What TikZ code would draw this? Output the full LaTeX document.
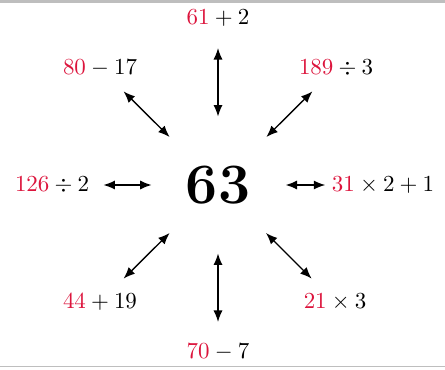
\documentclass[tikz,border=0pt]{standalone}
\usepackage{xcolor}
\usepackage{tikz}
\usetikzlibrary{arrows.meta,calc}
\definecolor{numred}{RGB}{220,20,60}
\definecolor{rulegray}{RGB}{190,190,190}

\begin{document}
\begin{tikzpicture}[x=0.0153cm,y=-0.0153cm,
  lbl/.style={font=\normalsize,inner sep=1pt},
  centre/.style={font=\Huge\bfseries,inner sep=1pt},
  arr/.style={{Latex[length=5pt,width=4pt]}-{Latex[length=5pt,width=4pt]},line width=0.6pt}
]
\useasboundingbox (0,0) rectangle (445,369);

% Frame rules
\fill[rulegray] (0,0) rectangle (445,3);
\draw[rulegray,line width=0.45pt] (0,366.5) -- (445,366.5);

% Centre number
\node[centre] (c) at (218,185) {63};

% Expressions around it
\node[lbl] (n)  at (218,18)  {$\textcolor{numred}{61}+2$};
\node[lbl] (s)  at (218,352) {$\textcolor{numred}{70}-7$};
\node[lbl] (w)  at (52,185)  {$\textcolor{numred}{126}\div 2$};
\node[lbl] (e)  at (383,185) {$\textcolor{numred}{31}\times 2+1$};
\node[lbl] (nw) at (100,68)  {$\textcolor{numred}{80}-17$};
\node[lbl] (ne) at (336,68)  {$\textcolor{numred}{189}\div 3$};
\node[lbl] (sw) at (100,302) {$\textcolor{numred}{44}+19$};
\node[lbl] (se) at (335,302) {$\textcolor{numred}{21}\times 3$};

% Arrows
\draw[arr] ($(c)!0.41!(n)$) -- ($(c)!0.82!(n)$);
\draw[arr] ($(c)!0.41!(s)$) -- ($(c)!0.82!(s)$);
\draw[arr] ($(c)!0.40!(w)$) -- ($(c)!0.69!(w)$);
\draw[arr] ($(c)!0.41!(e)$) -- ($(c)!0.65!(e)$);
\draw[arr] ($(c)!0.41!(nw)$) -- ($(c)!0.80!(nw)$);
\draw[arr] ($(c)!0.41!(ne)$) -- ($(c)!0.80!(ne)$);
\draw[arr] ($(c)!0.41!(sw)$) -- ($(c)!0.80!(sw)$);
\draw[arr] ($(c)!0.41!(se)$) -- ($(c)!0.80!(se)$);
\end{tikzpicture}
\end{document}
